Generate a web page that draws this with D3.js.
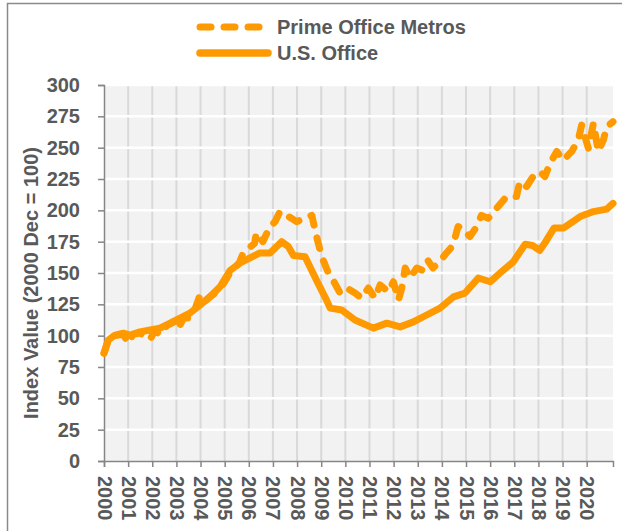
<!DOCTYPE html>
<html lang="en">
<head>
<meta charset="UTF-8">
<title>Office Index</title>
<script src="https://cdn.jsdelivr.net/npm/d3@7/dist/d3.min.js"></script>
<style>
  body { margin: 0; background: #fff; }
  text { font-family: "Liberation Sans", Arial, sans-serif; font-weight: bold; fill: #595959; }
</style>
</head>
<body>
<svg width="622" height="531"></svg>
<script>
// ---- data ----
var yearTicks = d3.range(2000, 2021);
var valueTicks = [0, 25, 50, 75, 100, 125, 150, 175, 200, 225, 250, 275, 300];

var usYears = [2000.00, 2000.18, 2000.46, 2000.80, 2001.08, 2001.49, 2001.91, 2002.32, 2002.74, 2003.15,
  2003.56, 2003.98, 2004.39, 2004.81, 2005.22, 2005.64, 2006.05, 2006.46, 2006.88, 2007.36,
  2007.64, 2007.85, 2008.33, 2008.81, 2009.23, 2009.37, 2009.85, 2010.40, 2011.16, 2011.72,
  2012.27, 2012.82, 2013.37, 2013.92, 2014.48, 2014.96, 2015.51, 2016.00, 2016.41, 2016.96,
  2017.45, 2017.75, 2018.05, 2018.30, 2018.65, 2019.05, 2019.73, 2020.28, 2020.83, 2021.09];
var usValues = [86, 96.5, 100.5, 102, 100.5, 103, 104.5, 106, 110, 114,
  118, 124.5, 131, 139, 152, 158, 162, 166, 166, 175,
  171, 164, 163, 144, 128, 122, 120.5, 112.5, 106, 110,
  107, 111, 116.5, 122, 131, 134, 146, 143, 150, 159,
  173, 172, 168, 175, 186, 186, 195, 199, 201, 205.5];

var primeYears = [2000.00, 2000.18, 2000.46, 2000.80, 2001.01, 2001.20, 2001.49, 2001.91, 2002.10, 2002.32,
  2002.60, 2003.00, 2003.08, 2003.30, 2003.49, 2003.75, 2003.98, 2004.15, 2004.40, 2004.80,
  2005.22, 2005.60, 2005.77, 2006.24, 2006.31, 2006.58, 2006.88, 2007.09, 2007.29, 2007.57,
  2007.98, 2008.33, 2008.61, 2008.81, 2009.02, 2009.30, 2009.50, 2009.78, 2010.06, 2010.40,
  2010.68, 2010.95, 2011.23, 2011.44, 2011.78, 2011.99, 2012.20, 2012.34, 2012.48, 2012.68,
  2012.96, 2013.21, 2013.42, 2013.63, 2013.91, 2014.19, 2014.46, 2014.67, 2014.88, 2015.16,
  2015.44, 2015.64, 2015.92, 2016.33, 2016.68, 2017.09, 2017.23, 2017.51, 2017.78, 2018.06,
  2018.27, 2018.48, 2018.76, 2019.03, 2019.38, 2019.65, 2019.79, 2020.07, 2020.28, 2020.48,
  2020.69, 2020.83, 2021.09];
var primeValues = [86, 97, 100, 101, 94, 101, 102, 97, 104, 101,
  108, 112, 106, 114, 114, 120, 132.5, 127, 131, 137,
  150, 158, 166, 173.7, 182, 175, 187, 191, 199, 196,
  191, 193.6, 196, 179, 163, 150, 144, 134, 138, 134,
  130, 138, 130, 140.5, 135, 143, 128.5, 138, 154, 146,
  154, 152, 160, 154, 159, 166, 172, 187, 185.6, 179,
  187, 196, 193.6, 203, 211, 211, 223, 219, 227, 231,
  227, 237.5, 247, 240, 247, 256, 268, 249.5, 269.5, 247,
  256, 266.7, 270.7];

var seriesNames = ["Prime Office Metros", "U.S. Office"];
var orange = "#ff9900";

// ---- layout ----
var svg = d3.select("svg");
var plotLeft = 104, plotRight = 613, plotTop = 85, plotBottom = 461;

var x = d3.scaleLinear().domain([2000, 2021.09]).range([plotLeft, plotRight]);
var y = d3.scaleLinear().domain([0, 300]).range([plotBottom, plotTop]);

// outer border
svg.append("rect")
  .attr("x", 7.5).attr("y", 3.5)
  .attr("width", 640).attr("height", 560)
  .attr("fill", "none")
  .attr("stroke", "#8a8a8a")
  .attr("stroke-width", 1.5);

// plot background
svg.append("rect")
  .attr("x", plotLeft).attr("y", plotTop)
  .attr("width", plotRight - plotLeft).attr("height", plotBottom - plotTop)
  .attr("fill", "#f2f2f2");

// vertical grid (gray)
svg.append("g").selectAll("line")
  .data(yearTicks.slice(1))
  .enter().append("line")
  .attr("x1", d => x(d)).attr("x2", d => x(d))
  .attr("y1", plotTop).attr("y2", plotBottom)
  .attr("stroke", "#d9d9d9")
  .attr("stroke-width", 2);

// horizontal grid (white)
svg.append("g").selectAll("line")
  .data(valueTicks.slice(1))
  .enter().append("line")
  .attr("x1", plotLeft).attr("x2", plotRight)
  .attr("y1", d => y(d)).attr("y2", d => y(d))
  .attr("stroke", "#ffffff")
  .attr("stroke-width", 2.5);

// y axis
var yAxis = svg.append("g")
  .attr("transform", "translate(" + plotLeft + ",0)")
  .call(d3.axisLeft(y).tickValues(valueTicks).tickSize(6).tickPadding(18));
yAxis.select(".domain").attr("stroke", "#868686").attr("stroke-width", 1.5);
yAxis.selectAll(".tick line").attr("stroke", "#868686").attr("stroke-width", 1.5);
yAxis.selectAll(".tick text")
  .attr("font-size", 20)
  .style("font-family", "'Liberation Sans', Arial, sans-serif")
  .style("font-weight", "bold")
  .attr("fill", "#595959");

// x axis
var xAxis = svg.append("g")
  .attr("transform", "translate(0," + plotBottom + ")")
  .call(d3.axisBottom(x).tickValues(yearTicks).tickSize(6).tickFormat(d3.format("d")));
xAxis.select(".domain").attr("stroke", "#868686").attr("stroke-width", 1.5);
xAxis.selectAll(".tick line").attr("stroke", "#868686").attr("stroke-width", 1.5);
xAxis.selectAll(".tick text")
  .attr("font-size", 20)
  .style("font-family", "'Liberation Sans', Arial, sans-serif")
  .style("font-weight", "bold")
  .attr("fill", "#595959")
  .attr("text-anchor", "start")
  .attr("x", 0).attr("y", 0)
  .attr("dy", "0.35em")
  .attr("transform", "translate(0,15) rotate(90)");

// y axis title
svg.append("text")
  .attr("transform", "translate(38,283) rotate(-90)")
  .attr("text-anchor", "middle")
  .attr("font-size", 20)
  .text("Index Value (2000 Dec = 100)");

// lines
var line = d3.line()
  .x(d => x(d[0]))
  .y(d => y(d[1]));

var usData = usYears.map((t, i) => [t, usValues[i]]);
var primeData = primeYears.map((t, i) => [t, primeValues[i]]);

svg.append("path")
  .datum(primeData)
  .attr("d", line)
  .attr("fill", "none")
  .attr("stroke", orange)
  .attr("stroke-width", 7)
  .attr("stroke-linecap", "round")
  .attr("stroke-linejoin", "round")
  .attr("stroke-dasharray", "11,13");

svg.append("path")
  .datum(usData)
  .attr("d", line)
  .attr("fill", "none")
  .attr("stroke", orange)
  .attr("stroke-width", 7)
  .attr("stroke-linecap", "round")
  .attr("stroke-linejoin", "round");

// legend
var legend = svg.append("g");
legend.append("line")
  .attr("x1", 200).attr("x2", 260).attr("y1", 27).attr("y2", 27)
  .attr("stroke", orange).attr("stroke-width", 7)
  .attr("stroke-linecap", "round")
  .attr("stroke-dasharray", "11,13");
legend.append("line")
  .attr("x1", 200).attr("x2", 268).attr("y1", 53).attr("y2", 53)
  .attr("stroke", orange).attr("stroke-width", 7.5)
  .attr("stroke-linecap", "round");
legend.selectAll("text.lab")
  .data(seriesNames)
  .enter().append("text")
  .attr("class", "lab")
  .attr("x", 277)
  .attr("y", (d, i) => 27 + i * 26)
  .attr("dy", "0.36em")
  .attr("font-size", 20)
  .text(d => d);
</script>
</body>
</html>
